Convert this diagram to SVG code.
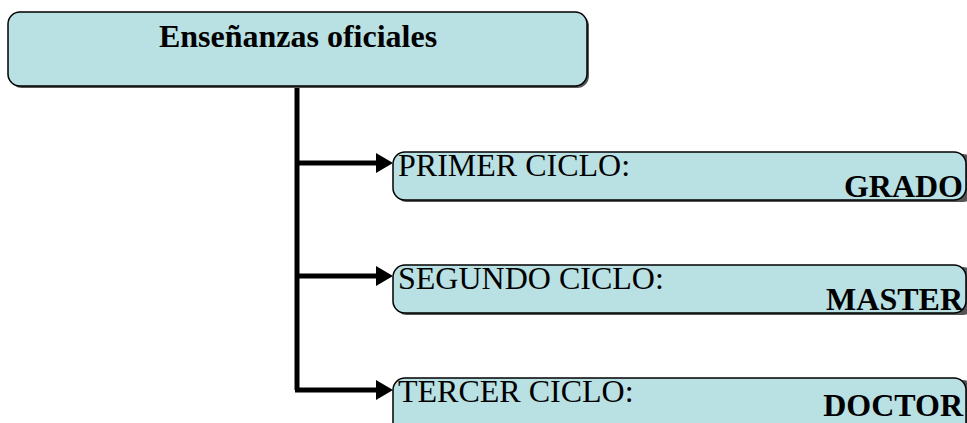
<svg xmlns="http://www.w3.org/2000/svg" width="967" height="423" viewBox="0 0 967 423">
<defs>
<style>
.box{fill:#b9e0e3;stroke:#000;stroke-width:1.5}
.shadow{fill:#555;stroke:none}
text{font-family:"Liberation Serif","Times New Roman","DejaVu Serif",serif;font-size:32px;fill:#000}
.b{font-weight:bold}
.conn{stroke:#000;stroke-width:5;fill:none}
</style>
</defs>
<rect width="967" height="423" fill="#fff"/>
<g id="connectors">
<path class="conn" d="M297,86 V390"/>
<path class="conn" d="M297,163 H380"/>
<path class="conn" d="M297,276 H380"/>
<path class="conn" d="M295,390 H380"/>
<path d="M376,153 L393,163 L376,173 z" fill="#000"/>
<path d="M376,266 L393,276 L376,286 z" fill="#000"/>
<path d="M376,380 L393,390 L376,400 z" fill="#000"/>
</g>
<g id="root">
<rect class="shadow" x="10" y="14" width="579" height="74" rx="12"/>
<rect class="box" x="8" y="12" width="579" height="74" rx="12"/>
<text class="b" x="298" y="47" text-anchor="middle" font-family="Liberation Serif, serif">Enseñanzas oficiales</text>
</g>
<g id="primer">
<rect class="shadow" x="395" y="154" width="580" height="48" rx="12"/>
<rect class="box" x="393" y="152" width="573" height="48" rx="12"/>
<text x="398" y="176" font-family="Liberation Serif, serif">PRIMER CICLO:</text>
<text class="b" x="963" y="197" text-anchor="end" font-family="Liberation Serif, serif">GRADO</text>
</g>
<g id="segundo">
<rect class="shadow" x="395" y="267" width="580" height="48" rx="12"/>
<rect class="box" x="393" y="265" width="573" height="48" rx="12"/>
<text x="398" y="289" font-family="Liberation Serif, serif">SEGUNDO CICLO:</text>
<text class="b" x="963" y="310" text-anchor="end" font-family="Liberation Serif, serif">MASTER</text>
</g>
<g id="tercer">
<rect class="shadow" x="395" y="380" width="580" height="60" rx="12"/>
<rect class="box" x="393" y="378" width="573" height="60" rx="12"/>
<text x="398" y="402" font-family="Liberation Serif, serif">TERCER CICLO:</text>
<text class="b" x="963" y="416" text-anchor="end" font-family="Liberation Serif, serif">DOCTOR</text>
</g>
</svg>
